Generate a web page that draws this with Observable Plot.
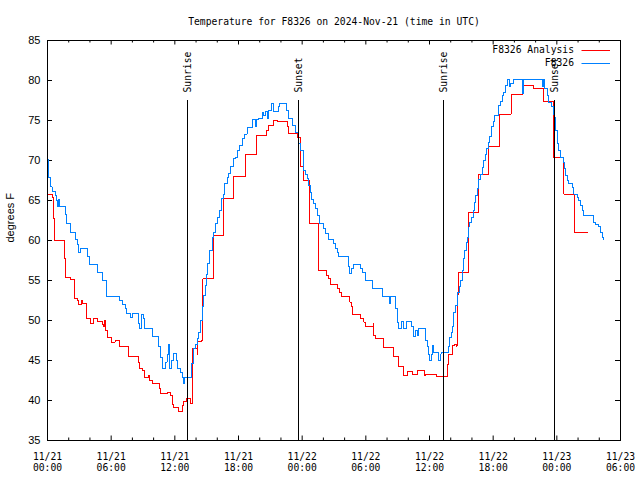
<!DOCTYPE html>
<html><head><meta charset="utf-8">
<script src="https://cdn.jsdelivr.net/npm/d3@7"></script>
<script src="https://cdn.jsdelivr.net/npm/@observablehq/plot@0.6"></script>
<style>
html,body{margin:0;padding:0;background:#fff;}
</style></head><body><div id="chart"></div>
<script>
const title = "Temperature for F8326 on 2024-Nov-21 (time in UTC)";
const yLabel = "degrees F";
const startUTC = "2024-11-21T00:00:00Z";
const endUTC = "2024-11-23T06:00:00Z";
const seriesNames = ["F8326 Analysis", "F8326"];
const seriesColors = ["#ff0000", "#0080ff"];

// hours since 2024-11-21 00:00 UTC, and temperature (deg F)
const analysisHours = [0,0.44,0.57,0.66,1.63,1.72,2.21,2.57,2.80,2.95,3.18,3.27,3.65,4.05,4.31,4.74,5.16,5.31,5.40,5.47,5.63,6.00,6.38,6.79,7.66,8.55,8.70,8.92,9.17,9.55,9.64,9.92,10.56,10.65,11.28,11.59,11.75,11.90,12.37,12.69,12.85,13.07,13.48,13.64,13.69,14.11,14.16,14.51,14.64,15.67,16.61,17.56,18.66,19.70,20.64,20.86,21.27,21.65,22.65,22.74,23.59,23.84,24.10,24.72,25.57,26.29,26.51,26.67,27.36,27.55,27.68,28.49,28.62,28.72,29.50,29.81,29.97,30.69,30.75,30.91,31.64,32.61,33.08,33.55,33.93,34.40,34.87,35.53,35.62,36.66,37.67,37.82,38.20,38.38,38.55,38.61,38.67,38.76,39.65,40.59,41.59,42.63,43.70,44.74,45.77,46.72,47.71,48.66,49.67,50.86];
const analysisTemps = [65.8,65.4,62.7,60.0,57.7,55.4,55.1,52.8,52.5,52.0,52.5,52.1,50.2,49.6,50.3,49.9,49.5,49.2,50.0,48.75,47.9,47.3,47.5,46.8,45.5,44.8,44.0,43.8,42.9,43.1,42.5,42.1,41.5,40.9,41.0,40.6,39.5,39.1,38.6,39.4,39.9,40.2,39.6,44.4,46.5,45.75,47.4,47.5,55.2,60.6,65.2,68.0,70.8,73.1,73.8,74.4,75.0,74.9,74.2,73.4,72.9,69.2,67.5,62.1,56.25,55.6,55.2,54.5,54.0,53.5,53.0,52.3,51.7,50.75,50.2,49.8,49.2,49.6,48.1,47.8,46.6,45.5,44.2,43.1,43.6,43.3,43.8,43.1,43.3,43.0,44.5,45.8,46.9,47.0,46.8,49.0,53.3,56.0,63.5,68.25,71.75,75.8,78.3,79.4,78.95,77.4,70.4,65.8,61.0,61.0];

const obsHours = [0,0.12,0.28,0.44,0.75,0.85,0.97,1.06,1.10,1.70,1.79,2.17,2.64,2.80,2.95,3.11,3.74,3.99,4.74,5.16,5.56,6.81,7.04,7.35,7.45,7.82,7.98,8.60,8.70,8.86,9.05,9.17,9.92,10.49,10.65,10.81,11.12,11.28,11.43,11.50,11.69,11.90,12.16,12.28,12.53,12.69,12.85,12.94,13.57,13.79,13.95,14.11,14.26,14.42,14.58,14.73,14.89,14.98,15.11,15.27,15.52,15.67,15.83,15.99,16.24,16.37,16.56,16.68,16.94,17.09,17.25,17.50,17.72,17.88,18.12,18.35,18.57,18.82,19.29,19.60,19.70,19.91,20.23,20.38,20.54,20.76,20.86,21.08,21.27,21.33,21.80,21.89,22.52,22.74,23.06,23.37,23.68,23.84,24.15,24.31,24.53,24.63,24.79,24.88,25.10,25.26,25.47,25.66,26.04,26.20,26.51,26.98,27.14,27.36,27.45,28.40,28.49,28.62,28.81,29.50,29.66,29.97,30.60,31.54,32.23,32.33,32.80,32.96,33.11,33.33,33.52,33.83,34.30,34.52,34.68,34.90,34.99,35.62,35.78,35.93,36.03,36.16,36.31,36.41,36.88,37.04,37.10,37.82,37.92,38.05,38.14,38.29,38.45,38.61,38.67,38.83,38.92,39.08,39.23,39.33,39.49,39.61,39.71,39.80,39.93,40.12,40.24,40.34,40.50,40.65,40.81,40.97,41.12,41.28,41.37,41.53,41.68,41.82,42.00,42.13,42.53,42.69,42.85,43.00,43.16,43.38,43.54,43.63,43.89,44.74,44.89,46.62,46.72,46.84,47.09,47.24,47.50,47.66,47.79,47.88,48.04,48.19,48.35,48.60,48.72,48.82,48.98,49.13,49.45,49.60,49.92,50.07,50.23,50.39,50.54,51.48,51.64,51.96,52.12,52.28,52.37];
const obsTemps = [70.1,67.9,66.7,66.1,65.6,65.0,64.2,65.1,64.2,63.3,62.1,61.0,60.1,59.5,58.5,59.0,58.0,57.0,56.0,55.0,53.0,52.5,52.0,51.5,50.9,50.4,50.9,49.6,49.0,50.8,50.2,49.0,48.0,46.7,45.4,44.0,44.8,45.8,47.0,44.0,45.0,45.9,45.0,44.0,43.5,42.9,42.1,42.9,44.6,46.5,47.0,47.7,48.5,50.0,51.7,53.1,54.4,55.8,57.1,58.75,60.4,61.0,62.1,62.9,63.75,65.2,65.8,67.1,67.9,68.4,69.2,70.2,70.4,71.2,71.9,72.7,73.3,74.1,75.1,74.2,75.1,75.2,76.0,75.6,76.1,75.2,76.25,77.1,76.7,76.1,76.75,77.1,76.25,75.2,74.4,73.5,72.1,71.25,68.75,68.3,67.7,66.9,66.0,65.1,64.6,63.95,63.1,62.1,61.5,60.9,60.1,59.6,59.0,58.5,58.0,56.7,55.9,56.5,57.0,56.5,56.0,55.0,54.0,53.0,52.1,53.0,51.5,49.8,49.0,49.9,49.0,49.9,49.2,48.0,48.75,48.1,49.0,47.5,46.7,45.8,45.0,45.8,46.9,46.0,45.0,45.8,46.0,46.7,47.9,48.5,49.2,51.0,51.9,52.5,53.5,54.2,55.0,56.25,57.7,58.75,59.8,60.4,61.7,62.2,62.9,63.75,64.7,65.6,66.5,67.6,68.3,69.1,70.0,70.8,71.5,72.3,73.0,74.2,74.9,75.6,76.9,77.4,78.1,78.5,79.4,80.1,79.2,79.6,80.1,78.4,80.1,79.25,80.1,79.0,78.1,77.3,76.7,75.8,75.4,73.75,72.1,71.25,70.4,69.8,69.0,68.1,67.5,67.1,66.6,65.8,65.4,65.0,64.4,63.75,63.1,62.3,62.0,61.7,61.0,60.4,60.1];

const eventLabels = ["Sunrise", "Sunset", "Sunrise", "Sunset"];
const eventTimes = ["2024-11-21T13:13:00Z", "2024-11-21T23:41:00Z", "2024-11-22T13:21:00Z", "2024-11-22T23:49:00Z"];

const yTicks = [35, 40, 45, 50, 55, 60, 65, 70, 75, 80, 85];
const xTickTimes = ["2024-11-21T00:00:00Z","2024-11-21T06:00:00Z","2024-11-21T12:00:00Z","2024-11-21T18:00:00Z","2024-11-22T00:00:00Z","2024-11-22T06:00:00Z","2024-11-22T12:00:00Z","2024-11-22T18:00:00Z","2024-11-23T00:00:00Z","2024-11-23T06:00:00Z"];

// ---- build tables ----
const t0 = new Date(startUTC).getTime();
const toDate = h => new Date(t0 + h * 3600e3);
const analysis = analysisHours.map((h, i) => ({time: toDate(h), temp: analysisTemps[i]}));
const obs = obsHours.map((h, i) => ({time: toDate(h), temp: obsTemps[i]}));
const events = eventTimes.map((t, i) => ({time: new Date(t), label: eventLabels[i]}));
const majorTicks = xTickTimes.map(t => new Date(t));
const majorSet = new Set(majorTicks.map(d => +d));
const minorTicks = d3.utcHour.every(2).range(new Date(startUTC), new Date(new Date(endUTC).getTime() + 1)).filter(d => !majorSet.has(+d));
const fmtX = d3.utcFormat("%m/%d\n%H:%M");

const W = 640, H = 480, mL = 47, mR = 20, mT = 40, mB = 40;
const fw = W - mL - mR, fh = H - mT - mB;
const mono = "'DejaVu Sans Mono', 'Liberation Mono', monospace";
const sans = "'Liberation Sans', Arial, sans-serif";

const chart = Plot.plot({
  width: W, height: H,
  marginLeft: mL, marginRight: mR, marginTop: mT, marginBottom: mB,
  style: {fontFamily: mono, fontSize: "9.7px", background: "#fff", color: "#000", overflow: "visible"},
  x: {type: "utc", domain: [new Date(startUTC), new Date(endUTC)], axis: null},
  y: {domain: [35, 85], axis: null},
  marks: [
    // ticks (inward, mirrored)
    Plot.tickX(majorTicks, {x: d => d, insetTop: fh - 4.5, stroke: "#000"}),
    Plot.tickX(majorTicks, {x: d => d, insetBottom: fh - 4.5, stroke: "#000"}),
    Plot.tickX(minorTicks, {x: d => d, insetTop: fh - 2.5, stroke: "#000"}),
    Plot.tickX(minorTicks, {x: d => d, insetBottom: fh - 2.5, stroke: "#000"}),
    Plot.tickY(yTicks, {y: d => d, insetRight: fw - 5, stroke: "#000"}),
    Plot.tickY(yTicks, {y: d => d, insetLeft: fw - 5, stroke: "#000"}),
    // series
    Plot.line(analysis, {x: "time", y: "temp", curve: "step-after", stroke: seriesColors[0], strokeWidth: 1, shapeRendering: "crispEdges"}),
    Plot.line(obs, {x: "time", y: "temp", curve: "step-after", stroke: seriesColors[1], strokeWidth: 1, shapeRendering: "crispEdges"}),
    // sunrise / sunset
    Plot.ruleX(events, {x: "time", y1: 35, y2: 77.5, stroke: "#000", strokeWidth: 1, shapeRendering: "crispEdges"}),
    Plot.text(events, {x: "time", y: 78.5, text: "label", rotate: -90, textAnchor: "start", fontFamily: mono, fontSize: 9.7}),
    Plot.frame({stroke: "#000"}),
    // axis labels
    Plot.text(majorTicks, {x: d => d, frameAnchor: "bottom", lineAnchor: "top", dy: 12, text: d => fmtX(d), lineHeight: 1.13, fontFamily: mono, fontSize: 9.7}),
    Plot.text(yTicks, {y: d => d, frameAnchor: "left", textAnchor: "end", dx: -7, text: d => String(d), fontFamily: sans, fontSize: 11}),
    Plot.text([yLabel], {frameAnchor: "left", dx: -37, dy: 2, rotate: -90, text: d => d, fontFamily: sans, fontSize: 11}),
    Plot.text([title], {frameAnchor: "top", dy: -22, text: d => d, fontFamily: mono, fontSize: 9.7})
  ]
});

// legend (gnuplot style, top-right inside the frame)
const svg = d3.select(chart);
const lg = svg.append("g").attr("font-family", mono).attr("font-size", 9.7);
const legendRows = [49.5, 62.5];
seriesNames.forEach((name, i) => {
  const y = legendRows[i];
  lg.append("text").attr("x", 574).attr("y", y).attr("dy", "0.35em").attr("text-anchor", "end").attr("fill", "#000").text(name);
  lg.append("line").attr("x1", 581.5).attr("x2", 610).attr("y1", Math.round(y) + 0.5).attr("y2", Math.round(y) + 0.5)
    .attr("stroke", seriesColors[i]).attr("stroke-width", 1);
});

document.getElementById("chart").appendChild(chart);
</script>
</body></html>
